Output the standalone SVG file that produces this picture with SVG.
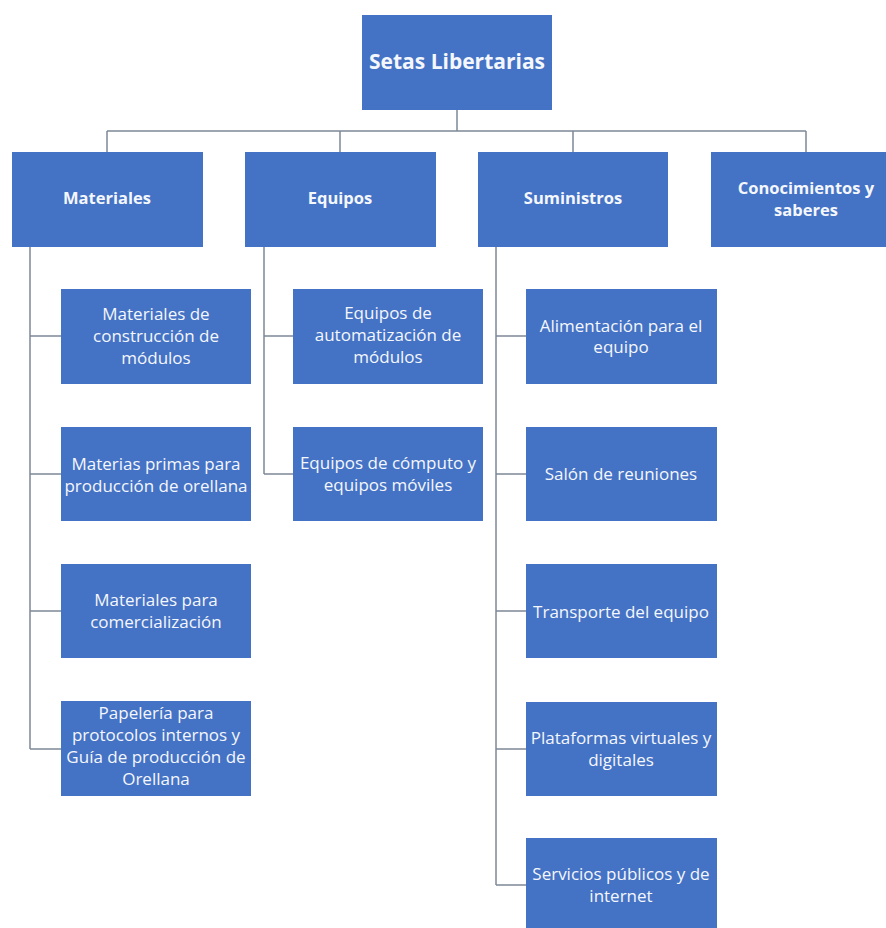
<svg xmlns="http://www.w3.org/2000/svg" width="886" height="928" viewBox="0 0 886 928">
<style>
.box{fill:#4472C4;}
.t{font-family:"Open Sans","Liberation Sans",sans-serif;fill:#f4f7fc;text-anchor:middle;font-size:17px;}
.h{font-weight:bold;font-size:16.5px;}
.title{font-weight:bold;font-size:21px;}
.c{fill:none;stroke:#7d8896;stroke-width:1.5;}
</style>
<rect width="886" height="928" fill="#fff"/>
<g id="connectors">
<path class="c" d="M457,110 V131 M107,131 H806 M107,131 V152 M340,131 V152 M573,131 V152 M806,131 V152"/>
<path class="c" d="M30,247 V749 M30,336 H61 M30,474 H61 M30,611 H61 M30,749 H61"/>
<path class="c" d="M264,247 V474 M264,336 H293 M264,474 H293"/>
<path class="c" d="M496,247 V885 M496,336 H526 M496,474 H526 M496,611 H526 M496,749 H526 M496,885 H526"/>
</g>
<g id="root"><rect class="box" x="362" y="15" width="190" height="95"/><text class="t title" x="457" y="69">Setas Libertarias</text></g>
<g id="materiales"><rect class="box" x="12" y="152" width="191" height="95"/><text class="t h" x="107" y="204">Materiales</text></g>
<g id="equipos"><rect class="box" x="245" y="152" width="191" height="95"/><text class="t h" x="340" y="204">Equipos</text></g>
<g id="suministros"><rect class="box" x="478" y="152" width="190" height="95"/><text class="t h" x="573" y="204">Suministros</text></g>
<g id="conocimientos"><rect class="box" x="711" y="152" width="191" height="95"/><text class="t h" x="806" y="194">Conocimientos y</text><text class="t h" x="806" y="216">saberes</text></g>

<g id="m1"><rect class="box" x="61" y="289" width="190" height="95"/><text class="t" x="156" y="320">Materiales de</text><text class="t" x="156" y="342">construcción de</text><text class="t" x="156" y="364">módulos</text></g>
<g id="m2"><rect class="box" x="61" y="427" width="190" height="94"/><text class="t" x="156" y="470">Materias primas para</text><text class="t" x="156" y="492">producción de orellana</text></g>
<g id="m3"><rect class="box" x="61" y="564" width="190" height="94"/><text class="t" x="156" y="606">Materiales para</text><text class="t" x="156" y="628">comercialización</text></g>
<g id="m4"><rect class="box" x="61" y="701" width="190" height="95"/><text class="t" x="156" y="719">Papelería para</text><text class="t" x="156" y="741">protocolos internos y</text><text class="t" x="156" y="763">Guía de producción de</text><text class="t" x="156" y="785">Orellana</text></g>

<g id="e1"><rect class="box" x="293" y="289" width="190" height="95"/><text class="t" x="388" y="319">Equipos de</text><text class="t" x="388" y="341">automatización de</text><text class="t" x="388" y="363">módulos</text></g>
<g id="e2"><rect class="box" x="293" y="427" width="190" height="94"/><text class="t" x="388" y="469">Equipos de cómputo y</text><text class="t" x="388" y="491">equipos móviles</text></g>

<g id="s1"><rect class="box" x="526" y="289" width="191" height="95"/><text class="t" x="621" y="332">Alimentación para el</text><text class="t" x="621" y="353">equipo</text></g>
<g id="s2"><rect class="box" x="526" y="427" width="191" height="94"/><text class="t" x="621" y="480">Salón de reuniones</text></g>
<g id="s3"><rect class="box" x="526" y="564" width="191" height="94"/><text class="t" x="621" y="618">Transporte del equipo</text></g>
<g id="s4"><rect class="box" x="526" y="702" width="191" height="94"/><text class="t" x="621" y="744">Plataformas virtuales y</text><text class="t" x="621" y="766">digitales</text></g>
<g id="s5"><rect class="box" x="526" y="838" width="191" height="95"/><text class="t" x="621" y="880">Servicios públicos y de</text><text class="t" x="621" y="902">internet</text></g>
</svg>
